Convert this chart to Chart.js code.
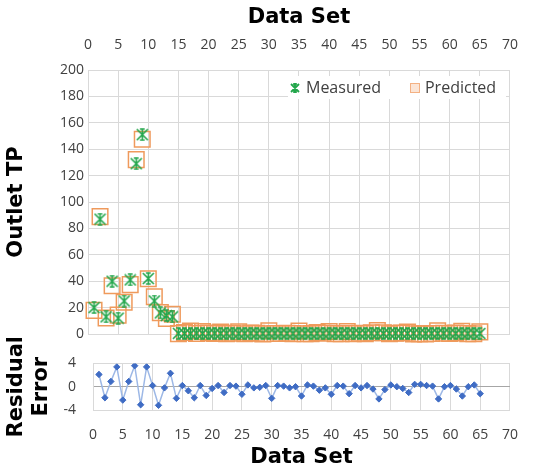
<!DOCTYPE html>
<html>
<head>
<meta charset="utf-8">
<script src="https://cdn.jsdelivr.net/npm/chart.js@4.4.0/dist/chart.umd.min.js"></script>
<style>
  html, body { margin: 0; padding: 0; background: #fff; }
  #wrap { position: relative; width: 535px; height: 473px; overflow: hidden; }
  #main { position: absolute; left: 0; top: 0; }
  #resid { position: absolute; left: 0; top: 338px; }
</style>
</head>
<body>
<div id="wrap">
  <canvas id="main" width="535" height="350"></canvas>
  <canvas id="resid" width="535" height="135"></canvas>
</div>
<script>
const dataSet = [
  1, 2, 3, 4, 5, 6, 7, 8, 9, 10,
  11, 12, 13, 14, 15, 16, 17, 18, 19, 20,
  21, 22, 23, 24, 25, 26, 27, 28, 29, 30,
  31, 32, 33, 34, 35, 36, 37, 38, 39, 40,
  41, 42, 43, 44, 45, 46, 47, 48, 49, 50,
  51, 52, 53, 54, 55, 56, 57, 58, 59, 60,
  61, 62, 63, 64, 65
];

const measured = [
  20, 87, 13, 40, 12, 25, 41, 129, 151, 42,
  25, 16, 14, 13, 0.5, 0.4, 0.3, 0.6, 0.4, 0.5,
  0.6, 0.4, 0.5, 0.7, 0.3, 0.5, 0.6, 0.4, 0.3, 0.5,
  0.6, 0.5, 0.4, 0.3, 0.6, 0.5, 0.4, 0.5, 0.3, 0.6,
  0.5, 0.4, 0.6, 0.5, 0.4, 0.5, 0.6, 0.5, 0.4, 0.5,
  0.6, 0.5, 0.4, 0.5, 0.6, 0.3, 0.5, 0.4, 0.5, 0.6,
  0.4, 0.5, 0.3, 0.5, 0.4
];

const predicted = [
  17.9, 88.9, 12.1, 36.6, 14.3, 24.1, 37.4, 132.1, 147.6, 41.8,
  28.2, 16.2, 11.7, 15, 0.3, 1.1, 2.2, 0.4, 1.9, 0.8,
  0.4, 1.4, 0.3, 0.6, 1.6, 0.2, 0.8, 0.5, 0.1, 2.5,
  0.4, 0.4, 0.6, 0.3, 2.2, 0.2, 0.3, 1.1, 0.5, 1.9,
  0.3, 0.3, 1.8, 0.3, 0.6, 0.3, 1.0, 2.6, 0.9, 0.2,
  0.6, 0.8, 1.4, 0.1, 0.2, 0.1, 0.4, 2.5, 0.5, 0.4,
  0.8, 2.1, 0.3, 0.2, 1.6
];

const residual = [
  2.1, -1.9, 0.9, 3.4, -2.3, 0.9, 3.6, -3.1, 3.4, 0.2,
  -3.2, -0.2, 2.3, -2.0, 0.2, -0.7, -1.9, 0.2, -1.5, -0.3,
  0.2, -1.0, 0.2, 0.1, -1.3, 0.3, -0.2, -0.1, 0.2, -2.0,
  0.2, 0.1, -0.2, 0.0, -1.6, 0.3, 0.1, -0.6, -0.2, -1.3,
  0.2, 0.1, -1.2, 0.2, -0.2, 0.2, -0.4, -2.1, -0.5, 0.3,
  0.0, -0.3, -1.0, 0.4, 0.4, 0.2, 0.1, -2.1, 0.0, 0.2,
  -0.4, -1.6, 0.0, 0.3, -1.2
];

const verde = "#22a64b";
const laranja = "#ef9a5c";
const cinzaGrade = "#d9d9d9";
const corTexto = "#404040";
const fonteTicks = { family: "'Open Sans'", size: 14 };
const fonteTitulo = { family: "'DejaVu Sans'", size: 21, weight: "bold", lineHeight: 1.2 };

// marcador tipo "estrela" do Excel (X + barra vertical com tampas curtas)
function criarEstrela(tam, cor, esp) {
  const c = document.createElement("canvas");
  c.width = tam;
  c.height = tam;
  const g = c.getContext("2d");
  g.strokeStyle = cor;
  g.lineWidth = esp;
  g.lineCap = "butt";
  const p = 1;
  const s = tam - 1;
  const m = tam / 2;
  g.beginPath();
  g.moveTo(p, p); g.lineTo(s, s);
  g.moveTo(s, p); g.lineTo(p, s);
  g.moveTo(m, p); g.lineTo(m, s);
  g.moveTo(tam * 0.32, p); g.lineTo(tam * 0.68, p);
  g.moveTo(tam * 0.32, s); g.lineTo(tam * 0.68, s);
  g.stroke();
  return c;
}

const estrela = criarEstrela(13, verde, 1.6);
const estrelaLegenda = criarEstrela(10, verde, 1.8);

const legendaInterna = {
  id: "legendaInterna",
  afterDraw(chart) {
    const ctx = chart.ctx;
    const a = chart.chartArea;
    const y = a.top + 18;
    ctx.save();
    ctx.fillStyle = "#fff";
    ctx.fillRect(a.right - 222, a.top + 6, 218, 23);
    ctx.drawImage(estrelaLegenda, a.right - 220, y - 5);
    ctx.fillStyle = "#fbe5d6";
    ctx.fillRect(a.right - 99, y - 4, 8, 8);
    ctx.strokeStyle = "#f4b183";
    ctx.lineWidth = 1;
    ctx.strokeRect(a.right - 99.5, y - 4.5, 9, 9);
    ctx.fillStyle = corTexto;
    ctx.font = "16px 'Open Sans'";
    ctx.textBaseline = "middle";
    ctx.textAlign = "left";
    ctx.fillText("Measured", a.right - 204, y);
    ctx.fillText("Predicted", a.right - 85, y);
    ctx.restore();
  },
};

const pontosMedidos = dataSet.map((d, i) => ({ x: d, y: measured[i] }));
const pontosPrevistos = dataSet.map((d, i) => ({ x: d, y: predicted[i] }));
const pontosResiduo = dataSet.map((d, i) => ({ x: d, y: residual[i] }));

new Chart(document.getElementById("main"), {
  type: "scatter",
  data: {
    datasets: [
      {
        label: "Measured",
        data: pontosMedidos,
        pointStyle: estrela,
        pointRadius: 6,
        borderColor: verde,
        backgroundColor: verde,
        clip: false,
      },
      {
        label: "Predicted",
        data: pontosPrevistos,
        pointStyle: "rect",
        pointRadius: 11,
        borderColor: laranja,
        borderWidth: 1.5,
        backgroundColor: "rgba(255,255,255,0)",
        clip: false,
      },
    ],
  },
  options: {
    responsive: false,
    animation: false,
    layout: { padding: { left: 0, right: 20, top: 0, bottom: 16 } },
    plugins: {
      legend: { display: false },
      tooltip: { enabled: false },
    },
    scales: {
      x: {
        type: "linear",
        position: "top",
        min: 0,
        max: 70,
        ticks: { stepSize: 5, font: fonteTicks, color: corTexto, padding: 17, maxRotation: 0, autoSkip: false },
        grid: { color: cinzaGrade, drawTicks: false },
        border: { color: cinzaGrade },
        title: { display: true, text: "Data Set", font: fonteTitulo, color: "#000", padding: { top: 5, bottom: 0 } },
        afterFit: (s) => { s.height = 70; },
      },
      y: {
        min: 0,
        max: 200,
        ticks: { stepSize: 20, font: fonteTicks, color: corTexto, padding: 4 },
        grid: { color: cinzaGrade, drawTicks: false },
        border: { color: cinzaGrade },
        title: { display: true, text: "Outlet TP", font: fonteTitulo, color: "#000", padding: { top: 4, bottom: 0 } },
        afterFit: (s) => { s.width = 88; },
      },
    },
  },
  plugins: [legendaInterna],
});

new Chart(document.getElementById("resid"), {
  type: "scatter",
  data: {
    datasets: [
      {
        label: "Residual Error",
        data: pontosResiduo,
        showLine: true,
        borderColor: "#9db8e6",
        borderWidth: 1.5,
        pointStyle: "rectRot",
        pointRadius: 3.2,
        pointBackgroundColor: "#3f6cc4",
        pointBorderColor: "#3f6cc4",
        pointBorderWidth: 1,
      },
    ],
  },
  options: {
    responsive: false,
    animation: false,
    layout: { padding: { left: 0, right: 14, top: 22, bottom: 0 } },
    plugins: {
      legend: { display: false },
      tooltip: { enabled: false },
    },
    scales: {
      x: {
        type: "linear",
        position: "bottom",
        min: 0,
        max: 70,
        ticks: { stepSize: 5, font: fonteTicks, color: corTexto, padding: 17, maxRotation: 0, autoSkip: false },
        grid: { color: cinzaGrade, drawTicks: false },
        border: { color: cinzaGrade },
        title: { display: true, text: "Data Set", font: fonteTitulo, color: "#000", padding: { top: 0, bottom: 3 } },
        afterFit: (s) => { s.height = 63; },
      },
      y: {
        min: -4,
        max: 4,
        ticks: { stepSize: 4, font: fonteTicks, color: corTexto, padding: 17 },
        grid: {
          color: (c) => (c.tick && c.tick.value === 0 ? "#a6a6a6" : cinzaGrade),
          drawTicks: false,
        },
        border: { color: cinzaGrade },
        title: { display: true, text: ["Residual", "Error"], font: fonteTitulo, color: "#000", padding: { top: 4, bottom: 0 } },
        afterFit: (s) => { s.width = 93; },
      },
    },
  },
});
</script>
</body>
</html>
